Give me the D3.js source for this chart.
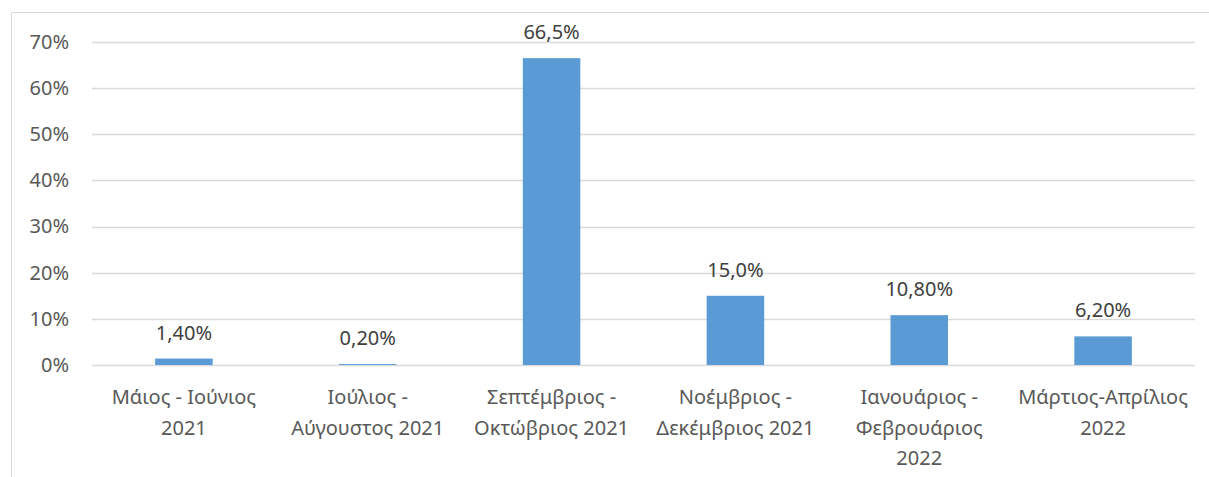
<!DOCTYPE html>
<html>
<head>
<meta charset="utf-8">
<script src="https://cdn.jsdelivr.net/npm/d3@7"></script>
<style>
  body { margin: 0; background: #fff; }
  text { font-family: "Noto Sans", sans-serif; }
</style>
</head>
<body>
<div id="chart"></div>
<script>
// periods (already split into lines as in the original)
const categories = [
  ["Μάιος - Ιούνιος", "2021"],
  ["Ιούλιος -", "Αύγουστος 2021"],
  ["Σεπτέμβριος -", "Οκτώβριος 2021"],
  ["Νοέμβριος -", "Δεκέμβριος 2021"],
  ["Ιανουάριος -", "Φεβρουάριος", "2022"],
  ["Μάρτιος-Απρίλιος", "2022"]
];
const values = [1.4, 0.2, 66.5, 15.0, 10.8, 6.2];
const valueLabels = ["1,40%", "0,20%", "66,5%", "15,0%", "10,80%", "6,20%"];
const yTicks = [0, 10, 20, 30, 40, 50, 60, 70];

const width = 1209, height = 477;
const margin = { top: 42, right: 14, bottom: 112, left: 92 };
const fontSize = 20;

const svg = d3.select("#chart").append("svg")
  .attr("width", width)
  .attr("height", height);

// chart frame (only top and left visible in crop)
svg.append("path")
  .attr("d", `M11.5,${height} L11.5,12.5 L${width},12.5`)
  .attr("fill", "none")
  .attr("stroke", "#d9d9d9")
  .attr("stroke-width", 1);

const x = d3.scaleBand()
  .domain(d3.range(categories.length))
  .range([margin.left, width - margin.right])
  .paddingInner(0.687)
  .paddingOuter(0.3435);

const y = d3.scaleLinear()
  .domain([0, 70])
  .range([height - margin.bottom, margin.top]);

// gridlines
svg.append("g")
  .selectAll("line")
  .data(yTicks)
  .join("line")
  .attr("x1", margin.left)
  .attr("x2", width - margin.right)
  .attr("y1", d => Math.round(y(d)) + 0.5)
  .attr("y2", d => Math.round(y(d)) + 0.5)
  .attr("stroke", "#d9d9d9")
  .attr("stroke-width", 1.3);

// y axis labels
const yAxis = d3.axisLeft(y)
  .tickValues(yTicks)
  .tickFormat(d => d + "%")
  .tickSize(0)
  .tickPadding(23);

svg.append("g")
  .attr("transform", `translate(${margin.left},0)`)
  .call(yAxis)
  .call(g => g.select(".domain").remove())
  .selectAll("text")
  .attr("font-size", fontSize)
  .attr("fill", "#595959")
  .attr("font-family", "Noto Sans, sans-serif");

// bars
svg.append("g")
  .selectAll("rect")
  .data(values)
  .join("rect")
  .attr("x", (d, i) => x(i))
  .attr("width", x.bandwidth())
  .attr("y", d => y(d))
  .attr("height", d => y(0) - y(d))
  .attr("fill", "#5b9bd5");

// value labels
svg.append("g")
  .selectAll("text")
  .data(values)
  .join("text")
  .attr("x", (d, i) => x(i) + x.bandwidth() / 2)
  .attr("y", d => y(d) - 19)
  .attr("text-anchor", "middle")
  .attr("font-size", fontSize)
  .attr("fill", "#404040")
  .text((d, i) => valueLabels[i]);

// category labels
const cat = svg.append("g")
  .selectAll("text")
  .data(categories)
  .join("text")
  .attr("x", (d, i) => x(i) + x.bandwidth() / 2)
  .attr("y", y(0) + 39)
  .attr("text-anchor", "middle")
  .attr("font-size", fontSize)
  .attr("fill", "#595959");

cat.selectAll("tspan")
  .data((d, i) => d.map(t => ({ t, cx: x(i) + x.bandwidth() / 2 })))
  .join("tspan")
  .attr("x", d => d.cx)
  .attr("dy", (d, j) => j === 0 ? 0 : 30.5)
  .text(d => d.t);
</script>
</body>
</html>
